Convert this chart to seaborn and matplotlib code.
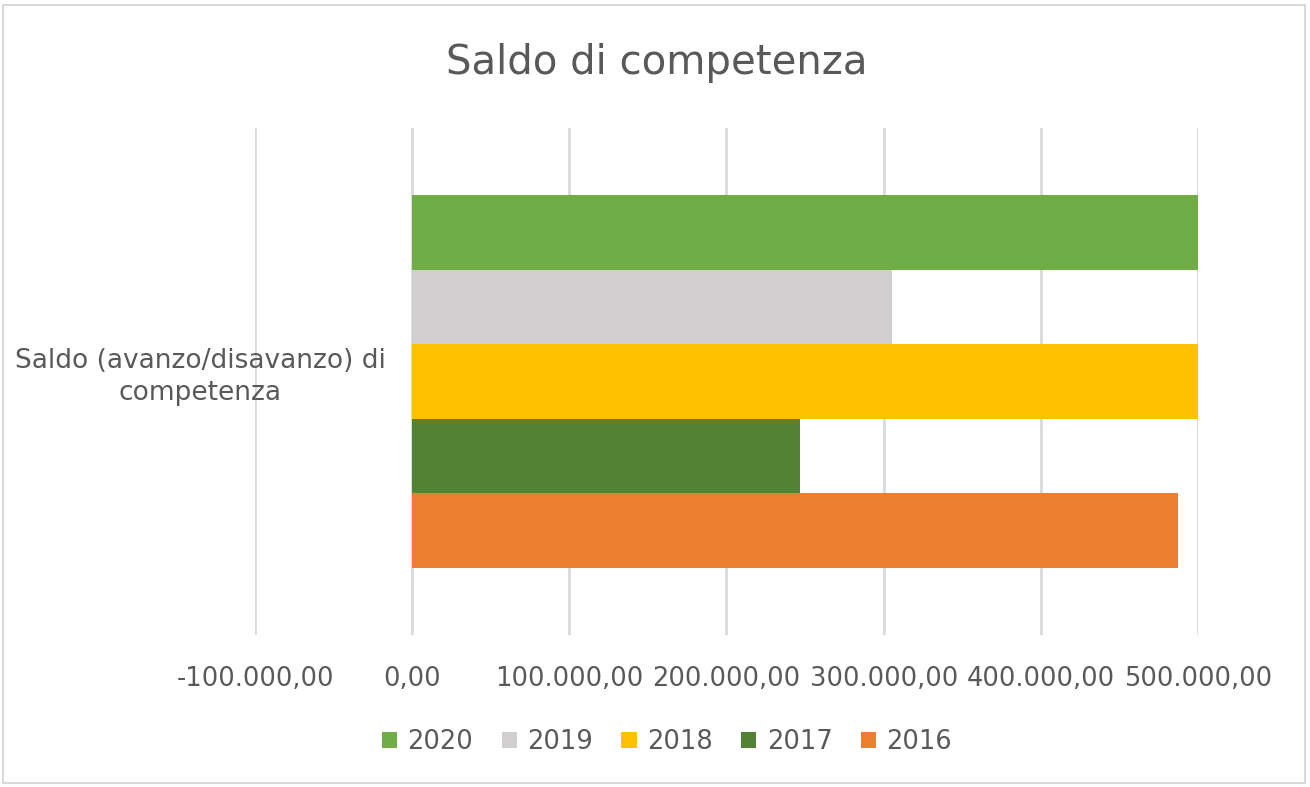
import matplotlib
matplotlib.use("Agg")
import matplotlib.pyplot as plt
import matplotlib.patches as mpatches
import matplotlib.ticker as mticker
import seaborn as sns
import pandas as pd

category = ["Saldo (avanzo/disavanzo) di\ncompetenza"]
years = ["2020", "2019", "2018", "2017", "2016"]
values = [500000, 305500, 500000, 247000, 487500]
colors = ["#70AD47", "#D0CECE", "#FFC000", "#548235", "#ED7D31"]
x_ticks = [-100000, 0, 100000, 200000, 300000, 400000, 500000]

df = pd.DataFrame({"cat": category * len(years), "year": years, "value": values})

sns.set_theme(style="white")
plt.rcParams["font.family"] = ["DejaVu Sans"]

fig = plt.figure(figsize=(13.1, 7.87), dpi=100)
ax = fig.add_axes([255 / 1310, 1 - 635 / 787, (1198 - 255) / 1310, (635 - 128) / 787])

sns.barplot(data=df, y="cat", x="value", hue="year", hue_order=years,
            palette=colors, orient="h", width=0.734, linewidth=0,
            saturation=1, ax=ax, legend=True)

ax.set_xlim(-100000, 500000)
ax.set_ylim(0.5, -0.5)
ax.set_xticks(x_ticks)

def fmt(v, pos):
    s = f"{abs(v):,.2f}".replace(",", "X").replace(".", ",").replace("X", ".")
    return ("-" if v < 0 else "") + s

ax.xaxis.set_major_formatter(mticker.FuncFormatter(fmt))
ax.tick_params(axis="x", length=0, pad=22, labelsize=18.5, labelcolor="#595959")
ax.set_yticks([])
ax.set_xlabel("")
ax.set_ylabel("")
ax.grid(axis="x", color="#D9D9D9", linewidth=2)
ax.set_axisbelow(True)
for s in ax.spines.values():
    s.set_visible(False)

ax.annotate(category[0], xy=(0, 0), xycoords="data", xytext=(-19, 3),
            textcoords="offset points", ha="right", va="center",
            multialignment="center", fontsize=19, color="#595959",
            linespacing=1.3)

fig.text(657 / 1310, 1 - 63 / 787, "Saldo di competenza", ha="center", va="center",
         fontsize=29, color="#595959")

handles, labels = ax.get_legend_handles_labels()
ax.get_legend().remove()
fig.legend(handles, labels, loc="center", bbox_to_anchor=(667 / 1310, 1 - 742 / 787),
           ncol=5, frameon=False, fontsize=18.5, labelcolor="#595959",
           handlelength=0.6, handleheight=0.6, handletextpad=0.4, columnspacing=1.1)

fig.patches.append(mpatches.Rectangle((3 / 1310, 4 / 787), 1302 / 1310, 778 / 787,
                                      transform=fig.transFigure, fill=False,
                                      edgecolor="#D9D9D9", linewidth=1.5))

fig.savefig("out.png", dpi=100)
